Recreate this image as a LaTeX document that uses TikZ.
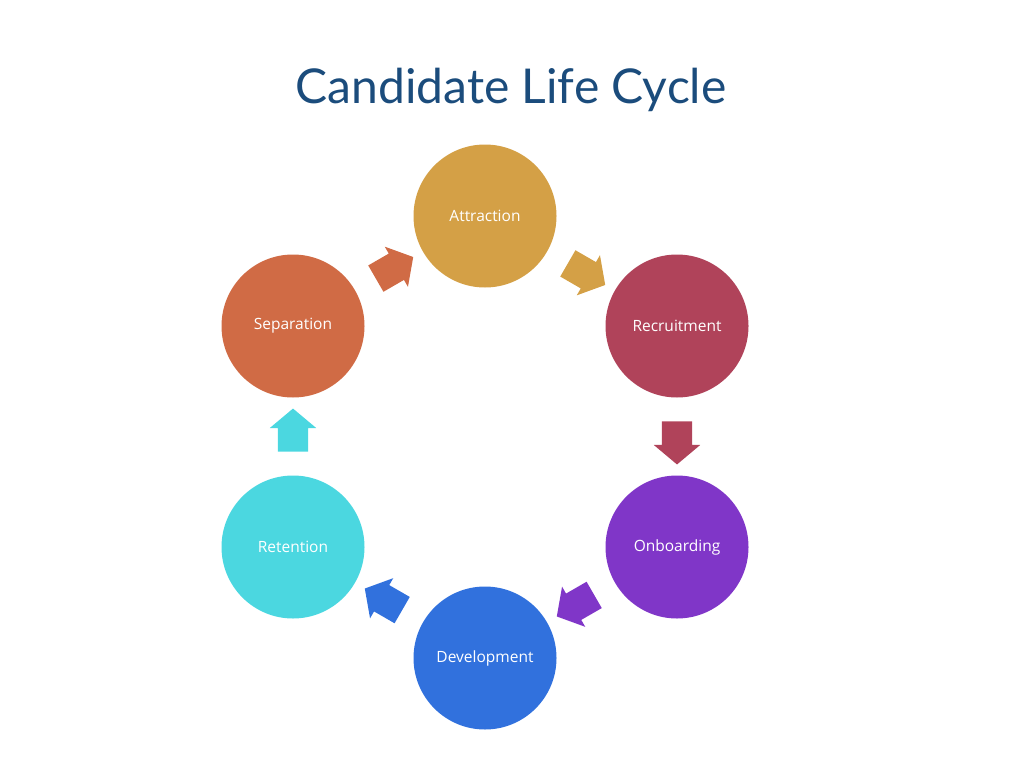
\documentclass[tikz,border=0pt]{standalone}
\usepackage{fontspec}
\setmainfont{Open Sans}
\newfontfamily\titlefont{Lato}
\usetikzlibrary{positioning,calc,shapes.arrows}
\definecolor{titleblue}{HTML}{1B4C7C}
\definecolor{cattr}{HTML}{D4A046}
\definecolor{crecr}{HTML}{B0435A}
\definecolor{conb}{HTML}{8036C8}
\definecolor{cdev}{HTML}{3171DD}
\definecolor{cret}{HTML}{4BD7E0}
\definecolor{csep}{HTML}{D06B45}

\begin{document}
\begin{tikzpicture}[
    x=1pt, y=1pt,
    stage/.style={circle, fill=#1, minimum size=143pt, inner sep=0pt, text=white, font=\fontsize{15.5}{18}\selectfont},
    flow/.style={single arrow, fill=#1, minimum height=41pt, inner sep=15pt, single arrow head extend=8pt, single arrow tip angle=100, single arrow head indent=0pt}
]
\useasboundingbox (0,0) rectangle (1024,-768);

\node[text=titleblue, font=\titlefont\fontsize{48}{54}\selectfont] (title) at (511,-90) {Candidate Life Cycle};

\node[stage=cattr] (attr) at (485,-216) {Attraction};
\node[stage=crecr] (recr) at (677,-326) {Recruitment};
\node[stage=conb] (onb) at (677,-547) {Onboarding};
\node[stage=cdev] (dev) at (485,-658) {Development};
\node[stage=cret] (ret) at (293,-547) {Retention};
\node[stage=csep] (sep) at (293,-326) {Separation};

% arrows between the stages
\node[flow=cattr, rotate=-30] (a1) at ($(attr)!0.5!(recr)$) {};
\node[flow=crecr, rotate=-90] (a2) at ($(recr)!0.5!(onb)$) {};
\node[flow=conb, rotate=-150] (a3) at ($(onb)!0.5!(dev)$) {};
\node[flow=cdev, rotate=150] (a4) at ($(dev)!0.5!(ret)$) {};
\node[flow=cret, rotate=90] (a5) at ($(ret)!0.5!(sep)$) {};
\node[flow=csep, rotate=30] (a6) at ($(sep)!0.5!(attr)$) {};
\end{tikzpicture}
\end{document}
